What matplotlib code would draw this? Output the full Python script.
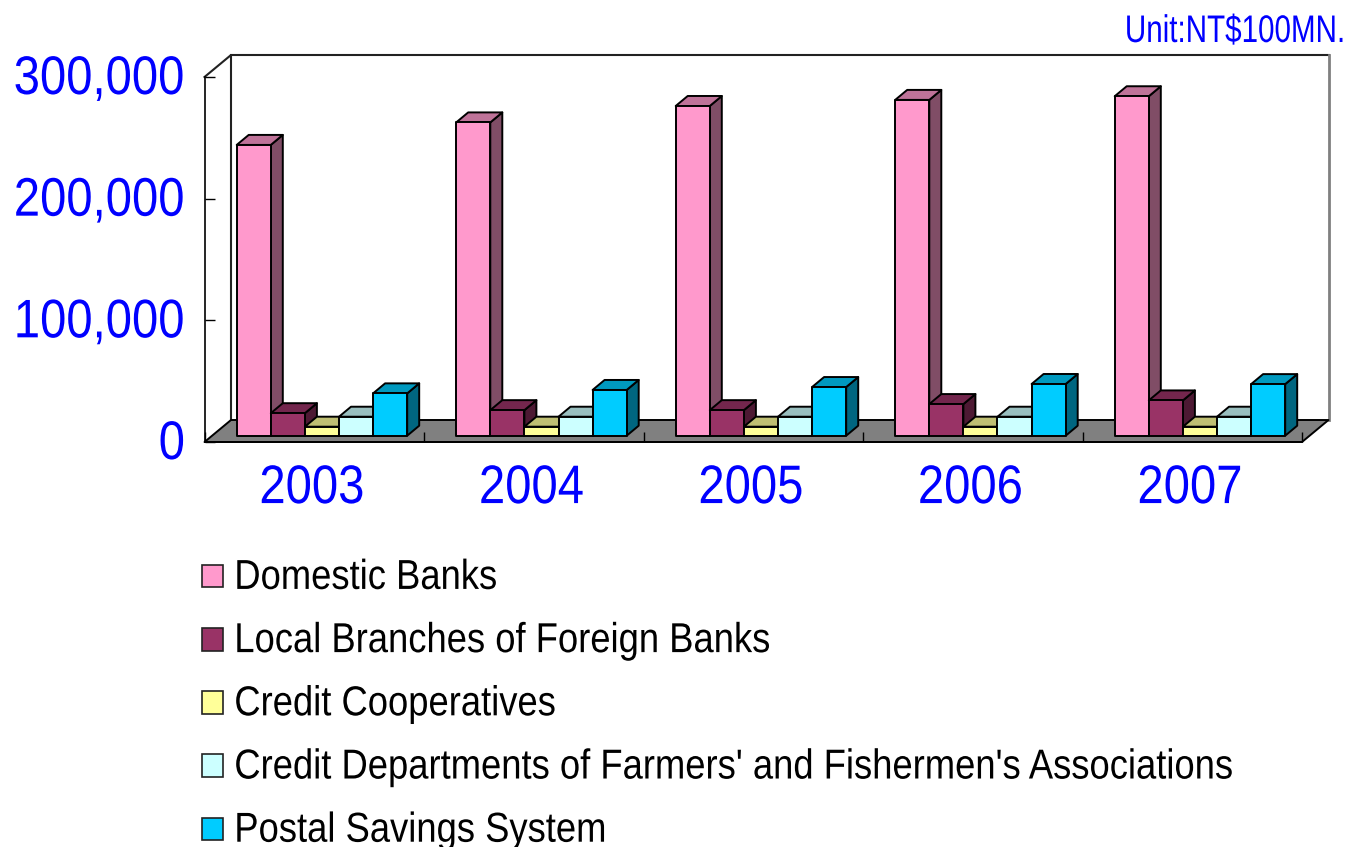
import matplotlib
matplotlib.use("Agg")
import matplotlib.pyplot as plt
from matplotlib.patches import Polygon, Patch
from matplotlib.patheffects import AbstractPathEffect
from matplotlib.ticker import FuncFormatter
from matplotlib.transforms import Affine2D

plt.rcParams['font.family'] = ['Liberation Sans', 'DejaVu Sans']

years = ['2003', '2004', '2005', '2006', '2007']
names = ['Domestic Banks', 'Local Branches of Foreign Banks', 'Credit Cooperatives',
         "Credit Departments of Farmers' and Fishermen's Associations", 'Postal Savings System']
domestic = [239000, 257500, 271000, 276000, 279000]
foreign = [18500, 21000, 21000, 26000, 29000]
coop = [7400, 7400, 7400, 7400, 7400]
farmers = [15600, 15600, 15600, 15600, 15600]
postal = [34800, 37600, 40000, 42500, 42400]
series = [domestic, foreign, coop, farmers, postal]

front = ['#FF99CC', '#993366', '#FFFF99', '#CCFFFF', '#00CCFF']
top = ['#BF7399', '#73264D', '#BFBF73', '#99BFBF', '#0099BF']
side = ['#804D66', '#4D1933', '#80804D', '#668080', '#006680']
blue = '#0000FF'


# the original picture was stretched, so its text is taller than the font
class Tall(AbstractPathEffect):
    def __init__(self, sy):
        super().__init__()
        self.sy = sy

    def draw_path(self, renderer, gc, tpath, affine, rgbFace=None):
        renderer.draw_path(gc, tpath, Affine2D().scale(1, self.sy) + affine, rgbFace)


W, H = 1348, 847
fig = plt.figure(figsize=(W / 100, H / 100), dpi=100)
# axes = the front plane of the fake 3d box
ax = fig.add_axes([204.5 / W, 1 - 442 / H, (1302 - 204.5) / W, (442 - 77) / H])
ax.set_xlim(0, 5)
ax.set_ylim(0, 300000)
ax.patch.set_visible(False)

# pixel sizes turned into data units
ux = 5 / (1302 - 204.5)
uy = 300000 / (442 - 77)
wall_dx, wall_dy = 26.5 * ux, 22 * uy
bar_dx, bar_dy = 12 * ux, 10 * uy
shift_x, shift_y = 7.5 * ux, 6.3 * uy
bar_w = 34.1 * ux
first = 24.7 * ux


def poly(pts, color, ec='black', lw=1.4, z=2):
    ax.add_patch(Polygon(pts, closed=True, fc=color, ec=ec, lw=lw, zorder=z, clip_on=False, joinstyle='round'))


# walls and floor
ax.plot([0, wall_dx, wall_dx], [300000, 300000 + wall_dy, wall_dy], color='#222222', lw=1.5, clip_on=False, zorder=1)
ax.plot([wall_dx, 5 + wall_dx], [300000 + wall_dy] * 2, color='#222222', lw=1.5, clip_on=False, zorder=1)
ax.plot([5 + wall_dx] * 2, [300000 + wall_dy, wall_dy], color='#808080', lw=2, clip_on=False, zorder=1)
poly([(0, 0), (5, 0), (5 + wall_dx, wall_dy), (wall_dx, wall_dy)], '#808080', z=1)

for i in range(len(years)):
    for j, s in enumerate(series):
        x0 = i + first + j * bar_w + shift_x
        x1 = x0 + bar_w
        y0 = shift_y
        y1 = y0 + s[i]
        poly([(x1, y0), (x1 + bar_dx, y0 + bar_dy), (x1 + bar_dx, y1 + bar_dy), (x1, y1)], side[j], z=3)
        poly([(x0, y1), (x1, y1), (x1 + bar_dx, y1 + bar_dy), (x0 + bar_dx, y1 + bar_dy)], top[j], z=3)
        poly([(x0, y0), (x1, y0), (x1, y1), (x0, y1)], front[j], z=3)

for sp in ['top', 'right']:
    ax.spines[sp].set_visible(False)
for sp in ['left', 'bottom']:
    ax.spines[sp].set_linewidth(1.2)
    ax.spines[sp].set_zorder(5)

ax.set_yticks([0, 100000, 200000, 300000])
ax.yaxis.set_major_formatter(FuncFormatter(lambda v, p: f'{int(v):,}'))
ax.tick_params(axis='y', direction='in', length=7, width=1, pad=14, labelsize=34, labelcolor=blue)
ax.set_xticks(range(6))
ax.set_xticklabels([])
ax.tick_params(axis='x', which='major', direction='in', length=7, width=1)
ax.set_xticks([i + 0.49 for i in range(5)], minor=True)
ax.set_xticklabels(years, minor=True)
ax.tick_params(axis='x', which='minor', length=0, pad=19.5, labelsize=34, labelcolor=blue)
for lab in ax.get_yticklabels() + ax.get_xticklabels(minor=True):
    lab.set_path_effects([Tall(1.15)])

handles = [Patch(fc=c, ec='#222222', lw=1.2) for c in front]
leg = fig.legend(handles, names, loc='upper left', bbox_to_anchor=(191 / W, 1 - 551 / H), frameon=False,
                 fontsize=26.2, handlelength=0.58, handleheight=0.58, handletextpad=0.31,
                 labelspacing=0.775, borderpad=0.3, borderaxespad=0)
for t in leg.get_texts():
    t.set_path_effects([Tall(1.15)])

unit = fig.text(1345 / W, 1 - 42 / H, 'Unit:NT$100MN.', color=blue, fontsize=21.3, ha='right', va='baseline')
unit.set_path_effects([Tall(1.3)])

fig.savefig('out.png', dpi=100)
